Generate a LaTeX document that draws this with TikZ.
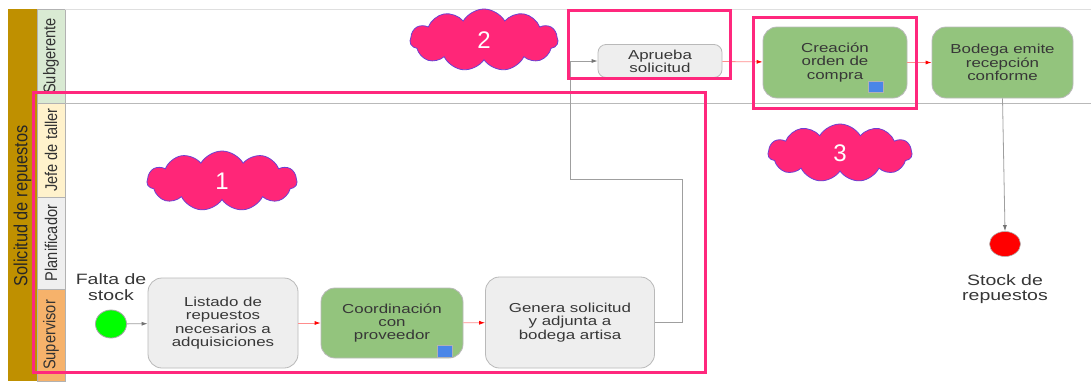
\documentclass[tikz,border=0pt]{standalone}
\usepackage{fontspec}
\setmainfont{Liberation Sans}
\newfontfamily\widesans[FakeStretch=1.3]{Liberation Sans}
\newfontfamily\narrowsans[FakeStretch=0.86]{Liberation Sans}
\usetikzlibrary{arrows.meta,shapes.symbols,shapes.geometric}

\definecolor{poolgold}{RGB}{191,144,0}
\definecolor{lanegreen}{RGB}{217,234,211}
\definecolor{laneyellow}{RGB}{255,242,204}
\definecolor{lanegray}{RGB}{239,239,239}
\definecolor{laneorange}{RGB}{246,178,107}
\definecolor{taskgreen}{RGB}{147,196,125}
\definecolor{taskgray}{RGB}{238,238,238}
\definecolor{markerblue}{RGB}{74,134,232}
\definecolor{framepink}{RGB}{255,40,125}
\definecolor{cloudpink}{RGB}{255,38,120}
\definecolor{cloudedge}{RGB}{110,64,210}
\definecolor{textgray}{RGB}{55,55,55}

\begin{document}
\begin{tikzpicture}[x=1pt,y=-1pt,
  lanebox/.style={draw=gray!60,line width=0.7pt},
  lanelabel/.style={rotate=90,font=\narrowsans\fontsize{17}{17}\selectfont,text=black!80},
  taskbox/.style={rectangle,rounded corners=14pt,draw=gray!55,line width=0.8pt,
    align=center,text=textgray,font=\widesans\fontsize{13}{13.3}\selectfont,inner sep=0pt},
  graytask/.style={taskbox,fill=taskgray},
  greentask/.style={taskbox,fill=taskgreen},
  marker/.style={rectangle,fill=markerblue,draw=gray!60,line width=0.4pt,
    minimum width=15pt,minimum height=12pt,inner sep=0pt},
  startev/.style={ellipse,fill=green,draw=gray!70,line width=0.8pt,
    minimum width=31pt,minimum height=28pt,inner sep=0pt},
  endev/.style={ellipse,fill=red,draw=gray!60,line width=0.6pt,
    minimum width=31pt,minimum height=25pt,inner sep=0pt},
  evlabel/.style={align=center,text=textgray,font=\widesans\fontsize{15}{15.5}\selectfont},
  seqflow/.style={draw=gray!75,line width=0.8pt,-{Latex[length=6pt,width=4pt,color=gray!90!black]}},
  msgflow/.style={draw=red!45,line width=0.8pt,-{Latex[length=6pt,width=4pt,color=red]}},
  hilite/.style={draw=framepink,line width=3pt},
  callout/.style={cloud,cloud puffs=11,cloud puff arc=120,cloud ignores aspect,
    fill=cloudpink,draw=cloudedge,line width=0.8pt,text=white,
    font=\fontsize{24}{24}\selectfont,inner sep=0pt}
]
\useasboundingbox (0,0) rectangle (1091,381);
\fill[white] (0,0) rectangle (1091,381);

% pool band and its title
\fill[poolgold] (8,9) rectangle (37,381);
\node[rotate=90,font=\narrowsans\fontsize{19}{19}\selectfont,text=black!85] (pool) at (22.5,206) {Solicitud de repuestos};

% lane headers
\draw[lanebox,fill=lanegreen]  (37,9)   rectangle (65,103);
\draw[lanebox,fill=laneyellow] (37,103) rectangle (65,197);
\draw[lanebox,fill=lanegray]   (37,197) rectangle (65,289);
\draw[lanebox,fill=laneorange] (37,289) rectangle (65,381);
\node[lanelabel] (lsub) at (51,56)  {Subgerente};
\node[lanelabel] (ljef) at (51,150) {Jefe de taller};
\node[lanelabel] (lpla) at (51,243) {Planificador};
\node[lanelabel] (lsup) at (51,335) {Supervisor};

% lane borders in the drawing area
\draw[gray!25,line width=0.8pt] (65,9) -- (1091,9);
\draw[gray!55,line width=0.8pt] (65,103) -- (1091,103);

% events
\node[startev] (start) at (111,324) {};
\node[evlabel,anchor=south] (startlbl) at (111,304) {Falta de\\stock};
\node[endev] (finish) at (1005,244) {};
\node[evlabel,anchor=north] (finishlbl) at (1005,271) {Stock de\\repuestos};

% tasks
\node[graytask,minimum width=150pt,minimum height=90pt] (listado) at (223,323)
  {Listado de\\repuestos\\necesarios a\\adquisiciones};
\node[greentask,minimum width=142pt,minimum height=70pt] (coord) at (392,323)
  {Coordinación\\con\\proveedor};
\node[graytask,minimum width=169pt,minimum height=91pt] (genera) at (570,322.5)
  {Genera solicitud\\y adjunta a\\bodega artisa};
\node[graytask,rounded corners=8pt,minimum width=124pt,minimum height=33pt] (aprueba) at (660,61)
  {Aprueba\\solicitud};
\node[greentask,minimum width=144pt,minimum height=71pt] (creacion) at (835,62.5)
  {Creación\\orden de\\compra};
\node[greentask,minimum width=141pt,minimum height=71pt] (bodega) at (1002.5,62.5)
  {Bodega emite\\recepción\\conforme};

% sub-process markers
\node[marker] (coordmk) at (444.5,351) {};
\node[marker,minimum height=11pt] (creamk) at (875.5,87) {};

% flows
\coordinate (bendA) at (682,179);
\coordinate (bendB) at (570,179);
\draw[seqflow] (start) -- (listado);
\draw[msgflow] (listado) -- (coord);
\draw[msgflow] (coord) -- (genera);
\draw[seqflow] (genera.east) -| (bendA) -- (bendB) |- (aprueba.west);
\draw[msgflow] (aprueba) -- (creacion);
\draw[msgflow] (creacion) -- (bodega);
\draw[seqflow] (bodega.south) -- (finish.north);

% highlight frames
\draw[hilite] (33,92) rectangle (705,372);
\draw[hilite] (568,10) rectangle (730,78);
\draw[hilite] (753,17) rectangle (916,108);

% numbered callouts
\node[callout,minimum width=150pt,minimum height=60pt] (c1) at (222,181) {1};
\node[callout,minimum width=148pt,minimum height=62pt] (c2) at (484,40) {2};
\node[callout,minimum width=144pt,minimum height=58pt] (c3) at (840,153) {3};
\end{tikzpicture}
\end{document}
